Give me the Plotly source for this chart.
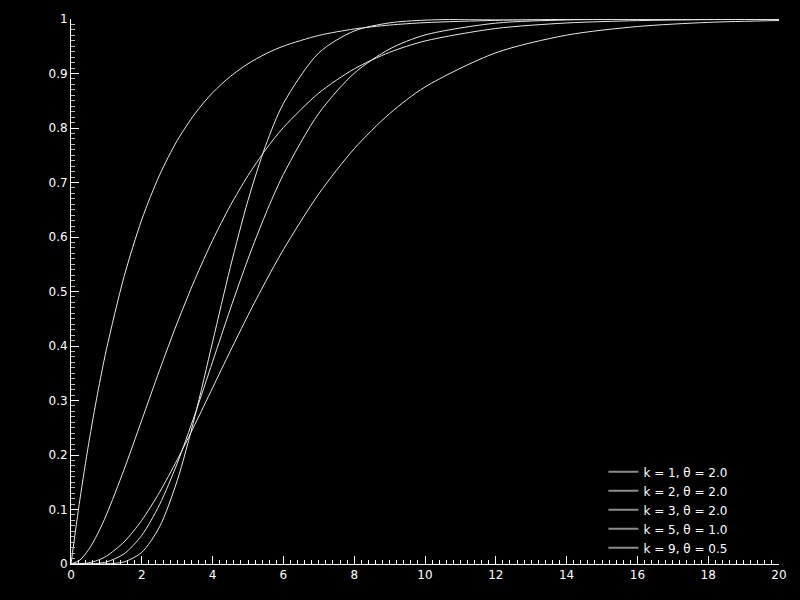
import plotly.graph_objects as go

# x positions at which the curves were read
x_vals = [0, 0.25, 0.5, 0.75, 1, 1.5, 2, 2.5, 3, 3.5, 4, 4.5, 5, 5.5, 6,
          7, 8, 9, 10, 12, 14, 16, 18, 20]

cdf_k1_t2 = [0, 0.1175, 0.2212, 0.3127, 0.3935, 0.5276, 0.6321, 0.7135, 0.7769,
             0.8262, 0.8647, 0.8946, 0.9179, 0.9361, 0.9502, 0.9698, 0.9817,
             0.9889, 0.9933, 0.9975, 0.9991, 0.9997, 0.9999, 1.0]
cdf_k2_t2 = [0, 0.0072, 0.0265, 0.0550, 0.0902, 0.1734, 0.2642, 0.3554, 0.4422,
             0.5221, 0.5940, 0.6575, 0.7127, 0.7603, 0.8009, 0.8641, 0.9084,
             0.9389, 0.9596, 0.9826, 0.9927, 0.9970, 0.9988, 0.9995]
cdf_k3_t2 = [0, 0.0003, 0.0022, 0.0067, 0.0144, 0.0405, 0.0803, 0.1315, 0.1912,
             0.2560, 0.3233, 0.3907, 0.4562, 0.5185, 0.5768, 0.6792, 0.7619,
             0.8264, 0.8753, 0.9380, 0.9704, 0.9862, 0.9938, 0.9972]
cdf_k5_t1 = [0, 0.0, 0.0002, 0.0011, 0.0037, 0.0186, 0.0527, 0.1088, 0.1847,
             0.2746, 0.3712, 0.4679, 0.5595, 0.6425, 0.7149, 0.8270, 0.9004,
             0.9450, 0.9707, 0.9924, 0.9982, 0.9996, 0.9999, 1.0]
cdf_k9_t05 = [0, 0.0, 0.0, 0.0, 0.0002, 0.0038, 0.0214, 0.0681, 0.1528,
              0.2709, 0.4075, 0.5443, 0.6672, 0.7680, 0.8450, 0.9379, 0.9780,
              0.9929, 0.9979, 0.9999, 1.0, 1.0, 1.0, 1.0]

series = [cdf_k1_t2, cdf_k2_t2, cdf_k3_t2, cdf_k5_t1, cdf_k9_t05]
labels = ["k = 1, θ = 2.0", "k = 2, θ = 2.0", "k = 3, θ = 2.0",
          "k = 5, θ = 1.0", "k = 9, θ = 0.5"]

x_tick_vals = [0, 2, 4, 6, 8, 10, 12, 14, 16, 18, 20]
x_tick_text = ["0", "2", "4", "6", "8", "10", "12", "14", "16", "18", "20"]
y_tick_vals = [0, 0.1, 0.2, 0.3, 0.4, 0.5, 0.6, 0.7, 0.8, 0.9, 1]
y_tick_text = ["0", "0.1", "0.2", "0.3", "0.4", "0.5", "0.6", "0.7", "0.8", "0.9", "1"]

fig = go.Figure()
for ys in series:
    fig.add_trace(go.Scatter(x=x_vals, y=ys, mode="lines",
                             line=dict(color="#e8e8e8", width=1, shape="spline", smoothing=0.8),
                             showlegend=False, hoverinfo="skip"))
for lab in labels:
    fig.add_trace(go.Scatter(x=[None], y=[None], mode="lines", name=lab,
                             line=dict(color="#8c8c8c", width=2)))

axis_common = dict(showgrid=False, zeroline=False, showline=True, linecolor="white",
                   linewidth=1, ticks="inside", ticklen=8, tickcolor="white",
                   tickfont=dict(color="white", size=12, family="DejaVu Sans"))

fig.update_xaxes(range=[0, 20], tickmode="array", tickvals=x_tick_vals, ticktext=x_tick_text,
                 minor=dict(ticks="inside", ticklen=4, dtick=0.2, tickcolor="white"),
                 **axis_common)
fig.update_yaxes(range=[0, 1], tickmode="array", tickvals=y_tick_vals, ticktext=y_tick_text,
                 minor=dict(ticks="inside", ticklen=4, dtick=0.01, tickcolor="#bbbbbb"),
                 **axis_common)

fig.update_layout(
    width=800, height=600,
    paper_bgcolor="black", plot_bgcolor="black",
    margin=dict(l=71, r=21, t=17, b=36),
    legend=dict(x=0.752, y=0.003, xanchor="left", yanchor="bottom",
                bgcolor="rgba(0,0,0,0)", font=dict(color="white", size=12, family="DejaVu Sans"),
                tracegroupgap=0),
)

fig.write_html("out.html", config={"displayModeBar": False},
               post_script="document.body.style.margin='0px';document.body.style.background='black';")
